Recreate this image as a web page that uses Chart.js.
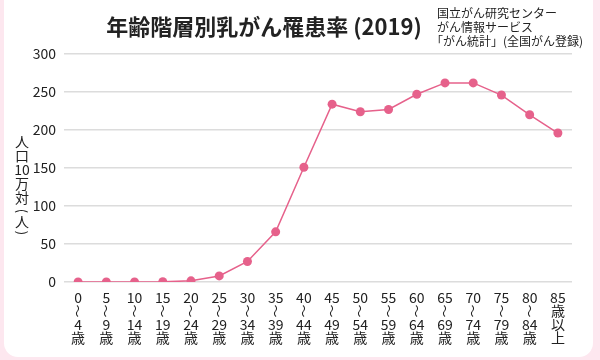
<!DOCTYPE html>
<html><head><meta charset="utf-8">
<script src="https://cdn.jsdelivr.net/npm/chart.js@4/dist/chart.umd.min.js"></script>
<style>
html,body{margin:0;padding:0;background:#fde7ef;width:600px;height:360px;overflow:hidden;}
#panel{position:absolute;left:4px;top:-14px;width:589px;height:371px;background:#fff;border-radius:14px;}
#wrap{position:absolute;left:0;top:0;width:600px;height:360px;}
</style></head>
<body>
<div id="panel"></div>
<div id="wrap"><canvas id="c" width="600" height="360"></canvas></div>
<script>
const categories = [
  ["0","～","4","歳"],["5","～","9","歳"],["10","～","14","歳"],["15","～","19","歳"],
  ["20","～","24","歳"],["25","～","29","歳"],["30","～","34","歳"],["35","～","39","歳"],
  ["40","～","44","歳"],["45","～","49","歳"],["50","～","54","歳"],["55","～","59","歳"],
  ["60","～","64","歳"],["65","～","69","歳"],["70","～","74","歳"],["75","～","79","歳"],
  ["80","～","84","歳"],["85","歳","以","上"]
];
const values = [0, 0, 0, 0.3, 1.5, 8, 27, 66, 151, 234, 224, 227, 247, 262, 262, 246, 220, 196];
const yTicks = [0, 50, 100, 150, 200, 250, 300];
const titleText = "年齢階層別乳がん罹患率 (2019)";
const sourceLines = ["国立がん研究センター", "がん情報サービス", "｢がん統計｣\u2002(全国がん登録)"];
const yTitleChars = ["人","口","10","万","対","(","人",")"];

const FONT = '"Noto Sans CJK JP","Noto Sans",sans-serif';
const lineColor = '#e6618b';

const textPlugin = {
  id: 'texts',
  afterDraw(chart) {
    const ctx = chart.ctx;
    ctx.save();
    ctx.fillStyle = '#222';
    ctx.textBaseline = 'middle';
    ctx.textAlign = 'center';
    ctx.font = 'bold 22px ' + FONT;
    ctx.fillText(titleText, 264, 27);
    ctx.textAlign = 'left';
    ctx.font = '12px ' + FONT;
    sourceLines.forEach((t, i) => ctx.fillText(t, 437, 13 + i * 14));
    // y axis title, stacked
    ctx.textAlign = 'center';
    ctx.font = '14px ' + FONT;
    const ys = [142, 156, 170, 184, 198, 211, 222, 233];
    yTitleChars.forEach((t, i) => {
      if (t === '(' || t === ')') {
        ctx.save();
        ctx.translate(22, ys[i]);
        ctx.rotate(Math.PI / 2);
        ctx.font = '13px ' + FONT;
        ctx.fillText(t, 0, 0);
        ctx.restore();
      } else {
        ctx.fillText(t, 22, ys[i]);
      }
    });
    // x tick labels through the x scale
    const xs = chart.scales.x;
    const lineYs = [298, 311, 324.5, 338];
    ctx.font = '14px ' + FONT;
    categories.forEach((lines, idx) => {
      const x = xs.getPixelForValue(idx);
      lines.forEach((t, j) => {
        if (t === '～') {
          ctx.save();
          ctx.translate(x, lineYs[j]);
          ctx.rotate(Math.PI / 2);
          ctx.font = '13px ' + FONT;
          ctx.fillText(t, 0, 0);
          ctx.restore();
        } else {
          ctx.fillText(t, x, lineYs[j]);
        }
      });
    });
    ctx.restore();
  }
};

new Chart(document.getElementById('c'), {
  type: 'line',
  data: {
    labels: categories.map(l => l.join('')),
    datasets: [{
      data: values,
      borderColor: lineColor,
      backgroundColor: lineColor,
      borderWidth: 1.5,
      pointRadius: 4.5,
      pointBorderWidth: 0,
      pointBackgroundColor: lineColor,
      tension: 0
    }]
  },
  options: {
    responsive: false,
    animation: false,
    devicePixelRatio: 1,
    layout: { padding: { top: 54, right: 28, left: 0, bottom: 0 } },
    plugins: { legend: { display: false }, title: { display: false }, tooltip: { enabled: false } },
    scales: {
      x: {
        offset: true,
        grid: { display: false, drawTicks: false },
        border: { display: false },
        afterFit: s => { s.height = 78; },
        ticks: { display: false, autoSkip: false }
      },
      y: {
        min: 0, max: 300,
        afterFit: s => { s.width = 64; },
        afterBuildTicks: s => { s.ticks = yTicks.map(v => ({ value: v })); },
        grid: { color: '#dcdcdc', lineWidth: 1.5, drawTicks: false },
        border: { display: false },
        ticks: { color: '#222', padding: 8, font: { family: FONT, size: 14 } }
      }
    }
  },
  plugins: [textPlugin]
});
</script>
</body></html>
